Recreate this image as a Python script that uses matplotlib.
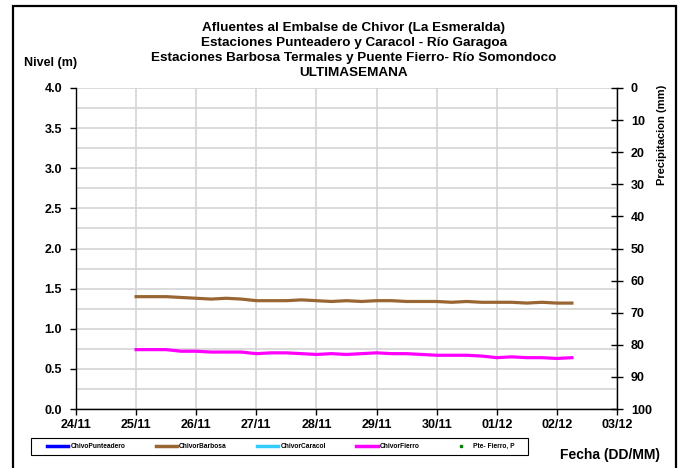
import pandas as pd
import matplotlib.pyplot as plt
import matplotlib.dates as mdates
from matplotlib.lines import Line2D
from matplotlib.patches import Rectangle

plt.rcParams['font.family'] = ['Liberation Sans', 'DejaVu Sans']
plt.rcParams['font.weight'] = 'bold'

# levels every 6 hours, 25/11 00:00 to 02/12 06:00
times = pd.date_range("2015-11-25 00:00", periods=30, freq="6h")

barbosa = [1.40, 1.40, 1.40, 1.39,
           1.38, 1.37, 1.38, 1.37,
           1.35, 1.35, 1.35, 1.36,
           1.35, 1.34, 1.35, 1.34,
           1.35, 1.35, 1.34, 1.34,
           1.34, 1.33, 1.34, 1.33,
           1.33, 1.33, 1.32, 1.33,
           1.32, 1.32]

fierro = [0.74, 0.74, 0.74, 0.72,
          0.72, 0.71, 0.71, 0.71,
          0.69, 0.70, 0.70, 0.69,
          0.68, 0.69, 0.68, 0.69,
          0.70, 0.69, 0.69, 0.68,
          0.67, 0.67, 0.67, 0.66,
          0.64, 0.65, 0.64, 0.64,
          0.63, 0.64]

# stations without data this week
punteadero = []
caracol = []
precip = []

title = ("Afluentes al Embalse de Chivor (La Esmeralda)\n"
         "Estaciones Punteadero y Caracol - Río Garagoa\n"
         "Estaciones Barbosa Termales y Puente Fierro- Río Somondoco\n"
         "ULTIMASEMANA")

c_punt = "#0000ff"
c_barb = "#996633"
c_cara = "#33ccff"
c_fier = "#ff00ff"
c_prec = "#008000"

fig = plt.figure(figsize=(6.87, 4.68), dpi=100)
ax = fig.add_axes([0.1106, 0.126, 0.7875, 0.686])

ax.plot(times, barbosa, color=c_barb, lw=2.3)
ax.plot(times, fierro, color=c_fier, lw=2.3)
ax.plot(times[:0], punteadero, color=c_punt)
ax.plot(times[:0], caracol, color=c_cara)

ax.set_ylim(0, 4)
ax.set_yticks([0, 0.5, 1, 1.5, 2, 2.5, 3, 3.5, 4])
ax.set_yticks([0.25 + 0.5 * i for i in range(8)], minor=True)
ax.yaxis.set_major_formatter(plt.FormatStrFormatter("%.1f"))
ax.set_xlim(pd.Timestamp("2015-11-24"), pd.Timestamp("2015-12-03"))
ax.xaxis.set_major_locator(mdates.DayLocator())
ax.xaxis.set_major_formatter(mdates.DateFormatter("%d/%m"))

ax.grid(True, which="both", color="#d4d4d4", lw=1.2)
ax.set_axisbelow(True)
for s in ["left", "bottom"]:
    ax.spines[s].set_linewidth(1.0)
ax.spines["top"].set_visible(False)
ax.spines["right"].set_visible(False)
ax.tick_params(axis="y", which="major", length=4, width=1, labelsize=9, pad=6)
ax.tick_params(axis="y", which="minor", length=0)
ax.tick_params(axis="x", length=4, width=1, labelsize=9, pad=3)

# precipitation axis on the right, inverted
ax2 = ax.twinx()
ax2.plot(times[:0], precip, "s", color=c_prec, ms=2)
ax2.set_ylim(100, 0)
ax2.set_yticks(range(0, 101, 10))
ax2.tick_params(axis="y", direction="inout", length=8, width=1, labelsize=9, pad=6)
ax2.spines["right"].set_linewidth(1.0)
for s in ["top", "left", "bottom"]:
    ax2.spines[s].set_visible(False)

fig.text(0.515, 0.893, title, ha="center", va="center", fontsize=9.7,
         fontweight="bold", linespacing=1.33)
fig.text(0.035, 0.865, "Nivel (m)", ha="left", va="center", fontsize=9, fontweight="bold")
fig.text(0.964, 0.712, "Precipitacion (mm)", ha="center", va="center", rotation=90,
         fontsize=8, fontweight="bold")
fig.text(0.815, 0.028, "Fecha (DD/MM)", ha="left", va="center", fontsize=10, fontweight="bold")

handles = [
    Line2D([], [], color=c_punt, lw=2.5),
    Line2D([], [], color=c_barb, lw=2.5),
    Line2D([], [], color=c_cara, lw=2.5),
    Line2D([], [], color=c_fier, lw=2.5),
    Line2D([], [], color=c_prec, marker="s", ms=2, lw=0),
]
labels = ["ChivoPunteadero", "ChivorBarbosa", "ChivorCaracol", "ChivorFierro", "Pte- Fierro, P"]
leg = fig.legend(handles, labels, ncol=5, loc="center", mode="expand",
                 bbox_to_anchor=(0.0684, 0.0278, 0.681, 0.0363),
                 prop={"size": 4.8, "weight": "bold"}, frameon=False,
                 handlelength=3.2, handletextpad=0.3, borderpad=0, borderaxespad=0,
                 columnspacing=1.0)

# legend box and outer border
fig.patches.append(Rectangle((0.0451, 0.0278), 0.7234, 0.0363, transform=fig.transFigure,
                             fill=False, edgecolor="black", lw=0.8))
fig.patches.append(Rectangle((0.019, -0.02), 0.965, 1.007, transform=fig.transFigure,
                             fill=False, edgecolor="black", lw=1.6))

fig.savefig("out.png", dpi=100)
